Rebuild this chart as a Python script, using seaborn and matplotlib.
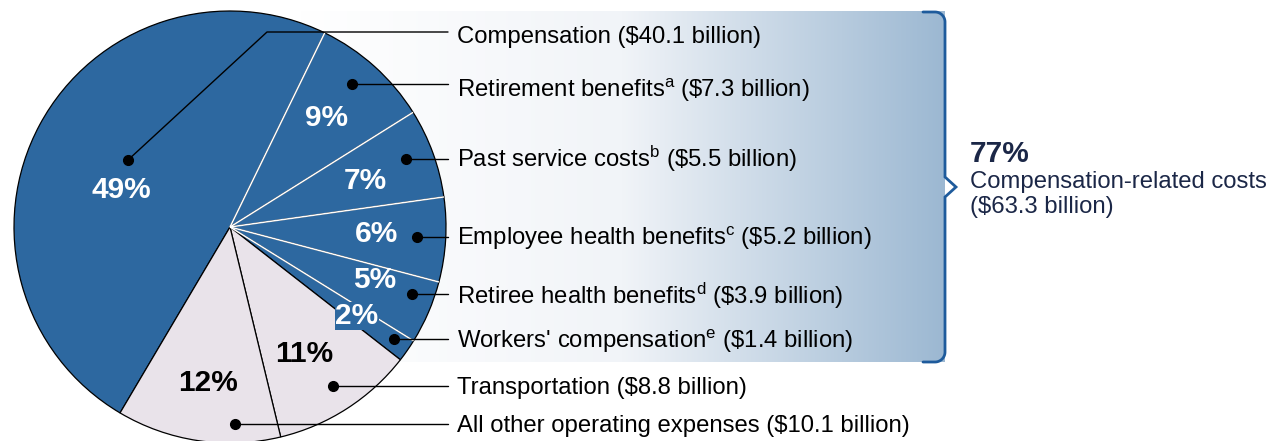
import numpy as np
import matplotlib
matplotlib.use("Agg")
import matplotlib.pyplot as plt
from matplotlib.colors import LinearSegmentedColormap
import seaborn as sns

# ---------------- data ----------------
categories = ["Compensation", "Retirement benefits", "Past service costs",
              "Employee health benefits", "Retiree health benefits",
              "Workers' compensation", "Transportation",
              "All other operating expenses"]
footnotes = ["", "a", "b", "c", "d", "e", "", ""]
values = [40.1, 7.3, 5.5, 5.2, 3.9, 1.4, 8.8, 10.1]   # $ billion
value_labels = ["$40.1", "$7.3", "$5.5", "$5.2", "$3.9", "$1.4", "$8.8", "$10.1"]
is_comp_related = [True, True, True, True, True, True, False, False]
summary_pct = "77%"
summary_text = "Compensation-related costs"
summary_value = "($63.3 billion)"

# ---------------- style ----------------
sns.set_theme(style="white")
plt.rcParams["font.family"] = ["Liberation Sans", "DejaVu Sans"]
plt.rcParams["mathtext.fontset"] = "custom"
plt.rcParams["mathtext.rm"] = "Liberation Sans"
plt.rcParams["mathtext.it"] = "Liberation Sans"

BLUE = "#2D68A0"
LIGHT = "#E9E3EA"
NAVY = "#1B2747"
BRACE = "#1E5B9C"

W, H = 1271, 441
fig = plt.figure(figsize=(W / 100, H / 100), dpi=100)
ax = fig.add_axes([0, 0, 1, 1])

def Y(y):  # image y (down) -> data y (up)
    return H - y

# gradient panel behind the comp-related labels
grad = LinearSegmentedColormap.from_list("g", ["#FFFFFF", "#F1F4F8", "#9CB8D2"], N=256)
gx0, gx1, gy0, gy1 = 300, 945, 11, 362
ax.imshow(np.linspace(0, 1, 256)[None, :], cmap=grad, aspect="auto",
          extent=[gx0, gx1, Y(gy1), Y(gy0)], zorder=0, interpolation="bilinear")

# pie
cx, cy, R = 230, 227, 216
colors = [BLUE if c else LIGHT for c in is_comp_related]
wedges, _ = ax.pie(values, colors=colors, startangle=239.4, counterclock=False,
                   center=(cx, Y(cy)), radius=R, frame=True,
                   wedgeprops=dict(edgecolor="black", linewidth=0.9))
for w in wedges:
    w.set_zorder(2)
# white separators between consecutive blue wedges
for i in range(len(wedges) - 1):
    if is_comp_related[i] and is_comp_related[i + 1]:
        ang = np.deg2rad(wedges[i].theta1)
        ax.plot([cx, cx + R * np.cos(ang)], [Y(cy), Y(cy) + R * np.sin(ang)],
                color="white", lw=1.1, zorder=3, solid_capstyle="butt")

# percentage labels (layout positions in pixels)
total = sum(values)
pct_pos = [(121, 190), (327, 118), (365, 181), (377, 234), (375, 280),
           (357, 316), (304, 354), (208, 383)]
for i, v in enumerate(values):
    p = f"{round(v / total * 100):.0f}%"
    col = "white" if is_comp_related[i] else "black"
    kw = {}
    if i == 5:
        kw["bbox"] = dict(boxstyle="square,pad=0.0", fc=BLUE, ec="none")
    ax.text(pct_pos[i][0], Y(pct_pos[i][1]), p, ha="center", va="center",
            fontsize=21.5, fontweight="bold", color=col, zorder=6, **kw)

# leader lines and labels
dots = [(128, 160), (352, 84), (406, 159), (417, 237), (412, 294),
        (394, 339), (333, 386), (235, 424)]
line_y = [32, 84, 159, 237, 294, 339, 386, 424]
baselines = [43, 97, 167, 245, 304, 348, 394, 432]
line_end_x = 448
text_x = 457
for i, cat in enumerate(categories):
    dx, dy = dots[i]
    if i == 0:
        xs = [dx, 267, line_end_x]
        ys = [Y(dy), Y(line_y[i]), Y(line_y[i])]
    else:
        xs = [dx, line_end_x]
        ys = [Y(dy), Y(line_y[i])]
    ax.plot(xs, ys, color="black", lw=1.0, zorder=7)
    ax.plot(dx, Y(dy), "o", color="black", ms=7, zorder=8)
    sup = f"$^{{\\mathrm{{{footnotes[i]}}}}}$" if footnotes[i] else ""
    val = value_labels[i].replace("$", "\\$")
    ax.text(text_x, Y(baselines[i]), f"{cat}{sup} ({val} billion)",
            ha="left", va="baseline", fontsize=17.2, color="black", zorder=8)

# brace
r = 10
top, bot, bx, tipx, tipy = 12, 362, 945, 956, 187
t = np.linspace(np.pi / 2, 0, 20)
arc1_x = (bx - r) + r * np.cos(t)
arc1_y = (top + r) - r * np.sin(t)
t2 = np.linspace(0, -np.pi / 2, 20)
arc2_x = (bx - r) + r * np.cos(t2)
arc2_y = (bot - r) - r * np.sin(t2)
bxs = np.concatenate([[bx - 22], arc1_x, [bx, tipx, bx], arc2_x, [bx - 22]])
bys = np.concatenate([[top], arc1_y, [tipy - 10, tipy, tipy + 10], arc2_y, [bot]])
ax.plot(bxs, [Y(v) for v in bys], color=BRACE, lw=2.0, zorder=5,
        solid_joinstyle="miter")

# summary text
ax.text(970, Y(162), summary_pct, ha="left", va="baseline", fontsize=21.5,
        fontweight="bold", color=NAVY)
ax.text(970, Y(188), summary_text, ha="left", va="baseline", fontsize=17.2, color=NAVY)
ax.text(970, Y(213), summary_value, ha="left", va="baseline", fontsize=17.2, color=NAVY)

ax.set_xlim(0, W)
ax.set_ylim(0, H)
ax.set_aspect("equal")
ax.axis("off")
fig.savefig("out.png", dpi=100)
